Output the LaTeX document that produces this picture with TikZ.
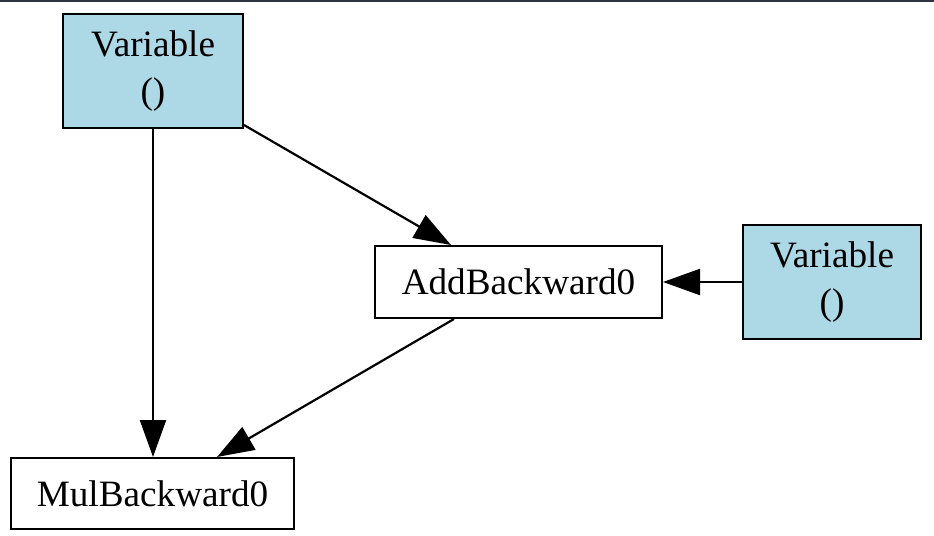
\documentclass[tikz,border=0pt]{standalone}
\usepackage{fontspec}
\setmainfont{Liberation Serif}
\usetikzlibrary{arrows.meta,calc}
\definecolor{topline}{RGB}{46,52,64}
\definecolor{varblue}{RGB}{173,216,230}
\tikzset{
  gnode/.style={draw=black, line width=1pt, inner sep=0pt, align=center,
    font=\fontsize{18.6}{23.5}\selectfont},
  varnode/.style={gnode, fill=varblue, minimum width=90pt, minimum height=57pt},
  fnnode/.style={gnode, fill=white, minimum height=36pt},
  edge/.style={line width=1.1pt, -{Triangle[length=18.5pt,width=13pt]}}
}
\begin{document}
\begin{tikzpicture}[x=0.5pt,y=-0.5pt]
\useasboundingbox (0,0) rectangle (934,536);
\fill[topline] (0,0) rectangle (934,2);
\node[varnode] (v1) at (153,71) {Variable\\()};
\node[fnnode, minimum width=143.5pt] (add) at (518.5,282) {AddBackward0};
\node[varnode, minimum width=89pt] (v2) at (832,282) {Variable\\()};
\node[fnnode, minimum width=141.5pt, minimum height=35.5pt] (mul) at (152.5,493.5) {MulBackward0};
\draw[edge] (v1.south) -- (mul.north -| v1.south);
\draw[edge] ($(v1.south east)+(0,-4)$) -- ($(add.north west)+(77,0)$);
\draw[edge] (v2.west) -- (add.east);
\draw[edge] ($(add.south west)+(80,0)$) -- ($(mul.north west)+(207,0)$);
\end{tikzpicture}
\end{document}
